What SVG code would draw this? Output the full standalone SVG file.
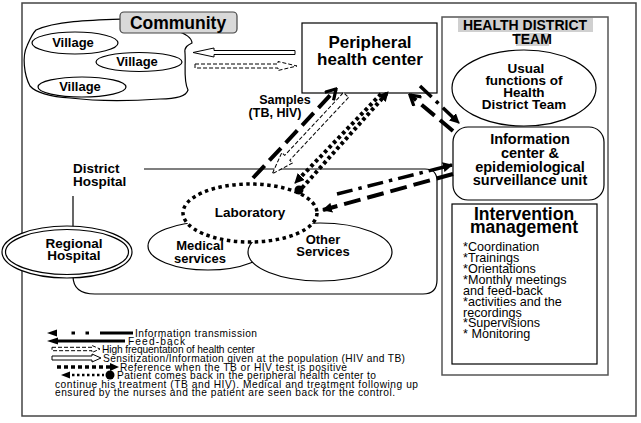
<svg xmlns="http://www.w3.org/2000/svg" width="641" height="423" viewBox="0 0 641 423">
<style>
text{font-family:"Liberation Sans",Arial,sans-serif;fill:#000}
.b{font-weight:bold}
.c{text-anchor:middle}
.shape{fill:#fff;stroke:#000;stroke-width:1.2}
.lg{font-size:10.2px}
.fb{fill:none;stroke:#000;stroke-width:4;stroke-dasharray:17 7}
.it{fill:none;stroke:#000;stroke-width:3.5;stroke-dasharray:16 6 3.5 6}
.dot{fill:none;stroke:#000;stroke-width:4;stroke-dasharray:3.5 3}
.hol{fill:#fff;stroke:#000;stroke-width:1}
.hold{fill:#fff;stroke:#000;stroke-width:1;stroke-dasharray:4 2}
</style>
<defs>
<marker id="chev" viewBox="0 0 14 14" refX="12" refY="7" markerWidth="14" markerHeight="14" markerUnits="userSpaceOnUse" orient="auto">
<path d="M2,1 L12,7 L2,13" fill="none" stroke="#000" stroke-width="3.2" stroke-dasharray="none"/>
</marker>
<marker id="tri" viewBox="0 0 10 10" refX="9" refY="5" markerWidth="10" markerHeight="10" markerUnits="userSpaceOnUse" orient="auto">
<path d="M0,0 L10,5 L0,10 Z" fill="#000" stroke="none"/>
</marker>
</defs>
<rect x="22" y="3" width="614" height="413" fill="#fff" stroke="#444" stroke-width="1.5"/>

<g id="community">
<path d="M36,30 C55,21 90,20 122,19 L176,31 C185,33 192,38 192,43 C188,45 184,47 185,53 C186,66 183,80 188,90 C186,97 175,99 160,99 C130,101 95,101 70,98 C50,97 35,92 30,86 C24,75 22,56 27,46 C30,39 32,34 36,30 Z" fill="#fff" stroke="#000" stroke-width="1.2"/>
<rect x="120" y="12" width="117" height="21" rx="4" fill="#d9d9d9" stroke="#444" stroke-width="1.2"/>
<text x="178" y="29" class="b c" font-size="17.5">Community</text>
</g>
<g id="village1"><ellipse cx="75" cy="43" rx="43" ry="11" class="shape"/><text x="73" y="47" class="b c" font-size="13">Village</text></g>
<g id="village2"><ellipse cx="139" cy="62" rx="43" ry="9.5" class="shape"/><text x="137" y="66" class="b c" font-size="13">Village</text></g>
<g id="village3"><ellipse cx="82" cy="87" rx="44" ry="10" class="shape"/><text x="80" y="91" class="b c" font-size="13">Village</text></g>

<g id="peripheral">
<rect x="302" y="23" width="135" height="70" class="shape"/>
<text x="370" y="48" class="b c" font-size="17">Peripheral</text>
<text x="370" y="65" class="b c" font-size="17">health center</text>
</g>

<g id="hdt">
<rect x="442" y="17" width="166" height="358" fill="#fff" stroke="#555" stroke-width="1.5"/>
<rect x="458" y="18" width="135" height="14" fill="#d0d0d0"/>
<rect x="516" y="33" width="33" height="13" fill="#d0d0d0"/>
<text x="525" y="30" class="b c" font-size="14">HEALTH DISTRICT</text>
<text x="532" y="44" class="b c" font-size="14">TEAM</text>
</g>
<g id="usual">
<ellipse cx="524" cy="88" rx="72" ry="38" class="shape"/>
<text x="526" y="73" class="b c" font-size="13.5">Usual</text>
<text x="524" y="85" class="b c" font-size="13.5">functions of</text>
<text x="524" y="97" class="b c" font-size="13.5">Health</text>
<text x="524" y="109" class="b c" font-size="13.5">District Team</text>
</g>
<g id="infocenter">
<rect x="453" y="127" width="151" height="73" rx="15" class="shape"/>
<text x="530" y="144" class="b c" font-size="14.5">Information</text>
<text x="530" y="158" class="b c" font-size="14.5">center &amp;</text>
<text x="530" y="172" class="b c" font-size="14.5">epidemiological</text>
<text x="530" y="185" class="b c" font-size="14.5">surveillance unit</text>
</g>
<g id="intervention">
<rect x="452" y="204" width="145" height="160" class="shape"/>
<text x="524" y="220" class="b c" font-size="17.5">Intervention</text>
<text x="524" y="233" class="b c" font-size="17.5">management</text>
<g font-size="12.6">
<text x="463" y="251">*Coordination</text>
<text x="463" y="262">*Trainings</text>
<text x="463" y="273">*Orientations</text>
<text x="463" y="284">*Monthly meetings</text>
<text x="463" y="294.5">and feed-back</text>
<text x="463" y="305.5">*activities and the</text>
<text x="463" y="316.5">recordings</text>
<text x="463" y="327">*Supervisions</text>
<text x="463" y="338">* Monitoring</text>
</g>
</g>

<g id="district">
<path d="M144,169 L425,169 Q437,169 437,181 L437,280 Q437,294 423,294 L95,294 Q73,294 73,276" fill="none" stroke="#000" stroke-width="1.2"/>
<line x1="73" y1="196" x2="73" y2="227" stroke="#000" stroke-width="1.2"/>
<text x="73" y="173" class="b" font-size="13.5">District</text>
<text x="73" y="186" class="b" font-size="13.5">Hospital</text>
</g>
<g id="regional">
<ellipse cx="67" cy="252" rx="65" ry="26" class="shape"/>
<ellipse cx="67" cy="252" rx="61.5" ry="22.5" fill="none" stroke="#000" stroke-width="1.2"/>
<text x="74" y="248" class="b c" font-size="13.5">Regional</text>
<text x="74" y="260" class="b c" font-size="13.5">Hospital</text>
</g>
<g id="medical">
<ellipse cx="208" cy="246" rx="60" ry="24" class="shape"/>
<text x="200" y="250" class="b c" font-size="13">Medical</text>
<text x="200" y="263" class="b c" font-size="13">services</text>
</g>
<g id="other">
<ellipse cx="320" cy="252" rx="72" ry="29" class="shape"/>
<text x="323" y="244" class="b c" font-size="13">Other</text>
<text x="323" y="256" class="b c" font-size="13">Services</text>
</g>
<g id="laboratory">
<ellipse cx="250" cy="213" rx="67" ry="29" fill="#fff" stroke="#000" stroke-width="3.5" stroke-dasharray="3.5 3.5"/>
<text x="250" y="217" class="b c" font-size="13.5">Laboratory</text>
</g>

<g id="connectors">
<polygon points="295,50.5 214,50.5 214,48 193,52.5 214,57 214,54.5 295,54.5" class="hol"/>
<polygon points="195,64 278,64 278,61.5 297,66 278,70.5 278,68 195,68" class="hold"/>
<polygon points="0,-3.5 86,-3.5 86,-7.5 108,0 86,7.5 86,3.5 0,3.5" class="hold" transform="translate(346,95) rotate(133.1)"/>
<path d="M253,178 L336,89" class="fb" marker-end="url(#chev)"/>
<path d="M453,131 L410,95" class="fb" marker-end="url(#chev)"/>
<path d="M420,86 L459,123" class="it" marker-end="url(#tri)"/>
<path d="M337,194 L452,165" class="it" marker-end="url(#tri)"/>
<path d="M453,174 L323,210" class="fb" marker-end="url(#tri)"/>
<path d="M302,188 L388,92" class="dot" marker-end="url(#tri)"/>
<path d="M381,94 L295,183" class="dot" marker-end="url(#tri)"/>
<circle cx="299" cy="190" r="4.5" fill="#000"/>
<text x="285" y="104" class="b c" font-size="12.5">Samples</text>
<text x="275" y="117" class="b c" font-size="12.5">(TB, HIV)</text>
</g>

<g id="legend">
<polygon points="47,333 57,329.5 57,336.5" fill="#000"/>
<rect x="71.5" y="331.5" width="3.5" height="3" fill="#000"/>
<rect x="85.5" y="331.5" width="3.5" height="3" fill="#000"/>
<rect x="100" y="331.5" width="33" height="3" fill="#000"/>
<text x="135" y="337" class="lg" textLength="122" lengthAdjust="spacing">Information transmission</text>
<polygon points="47,341 58,337.5 58,344.5" fill="#000"/>
<rect x="57" y="339.5" width="68" height="3" fill="#000"/>
<text x="128" y="345" class="lg" textLength="57" lengthAdjust="spacing">Feed-back</text>
<polygon points="52,347.3 92,347.3 92,345.5 100,349 92,352.5 92,350.7 52,350.7" class="hold"/>
<text x="102" y="352.5" class="lg" textLength="153" lengthAdjust="spacing">High frequentation of health center</text>
<polygon points="52,356 92,356 92,354 101,358 92,362 92,360 52,360" class="hol"/>
<text x="103" y="361.5" class="lg" textLength="302" lengthAdjust="spacing">Sensitization/Information given at the population (HIV and TB)</text>
<line x1="57" y1="367" x2="111" y2="367" stroke="#000" stroke-width="3.5" stroke-dasharray="4 3"/>
<polygon points="110,363 119,367 110,371" fill="#000"/>
<text x="120" y="370.5" class="lg" textLength="227" lengthAdjust="spacing">Reference when the TB or HIV test is positive</text>
<polygon points="61,375 70,371.5 70,378.5" fill="#000"/>
<line x1="72" y1="375" x2="104" y2="375" stroke="#000" stroke-width="2.5" stroke-dasharray="2.5 2.5"/>
<circle cx="110" cy="375" r="4.5" fill="#000"/>
<text x="117" y="379" class="lg" textLength="259" lengthAdjust="spacing">Patient comes back in the peripheral health center to</text>
<text x="55" y="387.5" class="lg" textLength="363" lengthAdjust="spacing">continue his treatment (TB and HIV). Medical and treatment following up</text>
<text x="55" y="396" class="lg" textLength="340" lengthAdjust="spacing">ensured by the nurses and the patient are seen back for the control.</text>
</g>
</svg>
